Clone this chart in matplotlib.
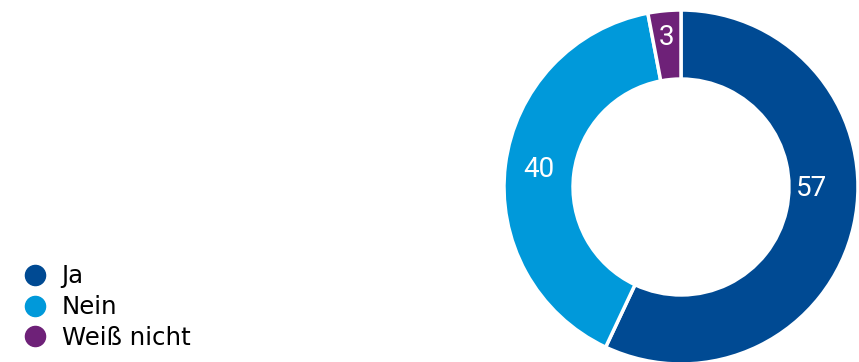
import matplotlib
matplotlib.use("Agg")
import matplotlib.pyplot as plt
from matplotlib.lines import Line2D
import numpy as np

plt.rcParams['font.family'] = ['DejaVu Sans']

categories = ["Ja", "Nein", "Weiß nicht"]
values = [57, 40, 3]
colors = ["#004A93", "#0099DA", "#6E2178"]

W, H = 859, 362
fig = plt.figure(figsize=(W / 100, H / 100), dpi=100)

# donut axes in pixel geometry
cx, cy, R = 681, 187, 177
ax = fig.add_axes([(cx - R) / W, (H - cy - R) / H, 2 * R / W, 2 * R / H])
wedges, _ = ax.pie(values, colors=colors, startangle=90, counterclock=False,
                   radius=1.0, wedgeprops=dict(width=0.39, edgecolor="white", linewidth=2.5))
ax.set_xlim(-1, 1)
ax.set_ylim(-1, 1)
ax.set_aspect("equal")
ax.axis("off")

for i, (w, v) in enumerate(zip(wedges, values)):
    ang = np.deg2rad((w.theta1 + w.theta2) / 2)
    r = 0.81
    if i == 0:
        ang = np.deg2rad(-0.5)
        r = 0.74
    elif v < 5:
        r = 0.85
    ax.text(r * np.cos(ang), r * np.sin(ang), str(v), color="white",
            family=["Roboto", "DejaVu Sans"], fontsize=20, fontweight="normal",
            ha="center", va="center")

handles = [Line2D([], [], marker="o", linestyle="none", markersize=14.5,
                  markerfacecolor=c, markeredgecolor=c) for c in colors]
fig.legend(handles, categories, loc="lower left", bbox_to_anchor=(25 / W, 12 / H),
           frameon=False, fontsize=17.6, handlelength=0.8, handletextpad=0.7,
           labelspacing=0.28, borderpad=0, borderaxespad=0)

fig.savefig("out.png", dpi=100)
